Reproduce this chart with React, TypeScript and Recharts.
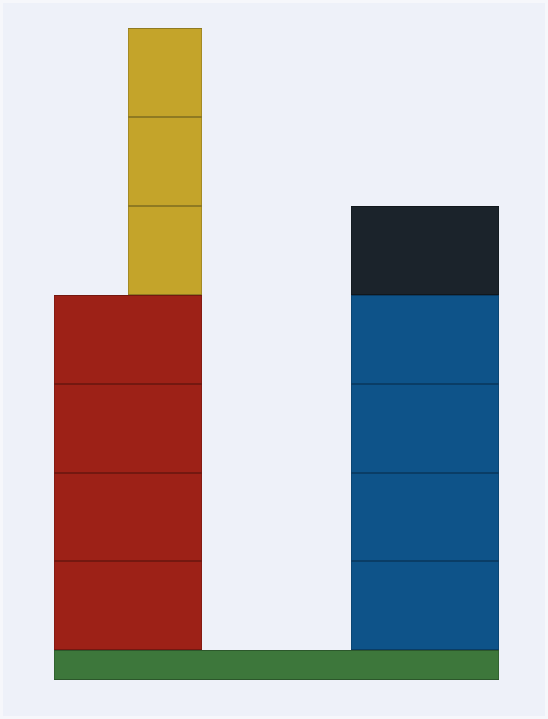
import { BarChart, Bar, XAxis, YAxis } from "recharts";

// six equal columns, values in units where one cell = 3 and the base band = 1
const columns = ["c1", "c2", "c3", "c4", "c5", "c6"];
const baseBand = [1, 1, 1, 1, 1, 1];
const cellValue = 3;
const redCells = [4, 4, 0, 0, 0, 0];
const blueCells = [0, 0, 0, 0, 4, 4];
const blackCells = [0, 0, 0, 0, 1, 1];
const yellowCells = [0, 3, 0, 0, 0, 0];

const layers = [
  { key: "red", counts: redCells, fill: "#9d2117", line: "#741810" },
  { key: "blue", counts: blueCells, fill: "#0e5389", line: "#0a3d66" },
  { key: "black", counts: blackCells, fill: "#1b232b", line: "#11171c" },
  { key: "yellow", counts: yellowCells, fill: "#c4a42a", line: "#8f7a22" },
];

const data = columns.map((name, c) => {
  const row: Record<string, any> = { name, base: baseBand[c] };
  layers.forEach((l) => {
    const max = Math.max(...l.counts);
    for (let i = 0; i < max; i++) {
      row[`${l.key}${i}`] = i < l.counts[c] ? cellValue : 0;
    }
  });
  return row;
});

const series: { dataKey: string; fill: string; line: string }[] = [
  { dataKey: "base", fill: "#3d773b", line: "#2c572b" },
];
layers.forEach((l) => {
  const max = Math.max(...l.counts);
  for (let i = 0; i < max; i++) series.push({ dataKey: `${l.key}${i}`, fill: l.fill, line: l.line });
});

const makeShape = (dataKey: string, fill: string, line: string) => (props: any) => {
  const { x, y, width, height, index } = props;
  if (!height || height <= 0) return <g />;
  const prev = data[index - 1];
  const next = data[index + 1];
  const left = !prev || !prev[dataKey];
  const right = !next || !next[dataKey];
  // overlap neighbours slightly so no background seam shows between columns
  const pad = right ? 0 : 1;
  return (
    <g shapeRendering="crispEdges">
      <rect x={x} y={y} width={width + pad} height={height} fill={fill} />
      <line x1={x} x2={x + width + pad} y1={y + 0.5} y2={y + 0.5} stroke={line} strokeWidth={1} />
      <line x1={x} x2={x + width + pad} y1={y + height - 0.5} y2={y + height - 0.5} stroke={line} strokeWidth={1} />
      {left && <line x1={x + 0.5} x2={x + 0.5} y1={y} y2={y + height} stroke={line} strokeWidth={1} strokeOpacity={0.6} />}
      {right && <line x1={x + width - 0.5} x2={x + width - 0.5} y1={y} y2={y + height} stroke={line} strokeWidth={1} strokeOpacity={0.6} />}
    </g>
  );
};

export default function App() {
  return (
    <div
      style={{
        position: "absolute",
        left: 0,
        top: 0,
        width: 548,
        height: 719,
        background: "#eef1f9",
        border: "3px solid #f6f7fb",
        boxSizing: "border-box",
      }}
    >
      <div style={{ position: "absolute", left: -3, top: -3 }}>
        <BarChart
          width={548}
          height={719}
          data={data}
          margin={{ top: 28, right: 49, bottom: 39, left: 54 }}
          barCategoryGap={0}
          barGap={0}
        >
          <XAxis dataKey="name" hide />
          <YAxis hide domain={[0, 22]} />
          {series.map((s) => (
            <Bar
              key={s.dataKey}
              dataKey={s.dataKey}
              stackId="a"
              fill={s.fill}
              isAnimationActive={false}
              shape={makeShape(s.dataKey, s.fill, s.line)}
            />
          ))}
        </BarChart>
      </div>
    </div>
  );
}
